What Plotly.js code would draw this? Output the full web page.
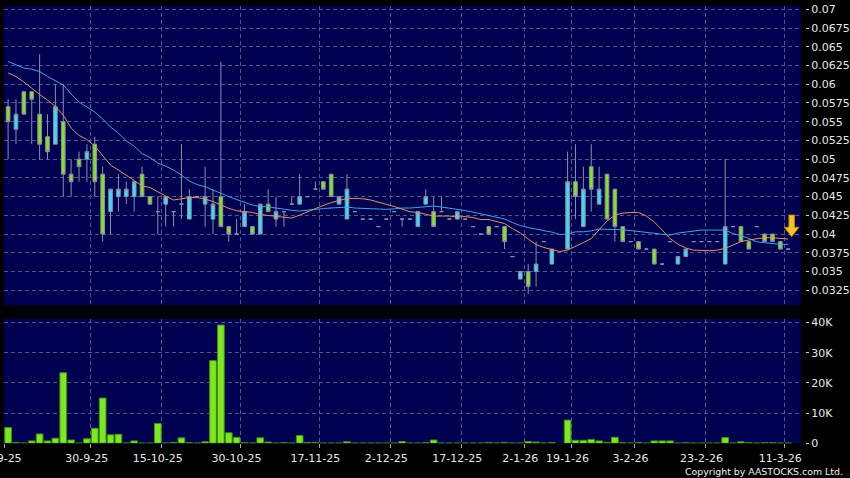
<!DOCTYPE html>
<html>
<head>
<meta charset="utf-8">
<script src="https://cdn.plot.ly/plotly-3.0.1.min.js"></script>
<style>
html,body{margin:0;padding:0;background:#000;}
#chart{width:850px;height:478px;}
</style>
</head>
<body>
<div id="chart"></div>
<script>
// ---- data ----
const dates = ['16-9-25','17-9-25','18-9-25','19-9-25','22-9-25','23-9-25','24-9-25','25-9-25','26-9-25','29-9-25','30-9-25',
'2-10-25','3-10-25','6-10-25','8-10-25','9-10-25','10-10-25','13-10-25','14-10-25','15-10-25',
'16-10-25','17-10-25','20-10-25','21-10-25','22-10-25','23-10-25','24-10-25','27-10-25','28-10-25','30-10-25',
'31-10-25','3-11-25','5-11-25','6-11-25','7-11-25','10-11-25','11-11-25','13-11-25','14-11-25','17-11-25',
'18-11-25','19-11-25','21-11-25','24-11-25','25-11-25','27-11-25','28-11-25','1-12-25','2-12-25',
'3-12-25','4-12-25','5-12-25','8-12-25','10-12-25','11-12-25','15-12-25','16-12-25','17-12-25',
'18-12-25','19-12-25','22-12-25','23-12-25','29-12-25','30-12-25','31-12-25','2-1-26',
'5-1-26','6-1-26','8-1-26','12-1-26','14-1-26','19-1-26',
'20-1-26','21-1-26','22-1-26','26-1-26','27-1-26','29-1-26','2-2-26','3-2-26',
'4-2-26','5-2-26','9-2-26','10-2-26','11-2-26','12-2-26','16-2-26','20-2-26','23-2-26',
'24-2-26','25-2-26','26-2-26','27-2-26','2-3-26','3-3-26','5-3-26','6-3-26','10-3-26','11-3-26',
'12-3-26'];

const openP = [0.057,0.054,0.059,0.059,0.056,0.053,0.052,0.055,0.048,0.050,
0.050,0.052,0.048,0.043,0.045,0.045,0.045,0.048,0.045,0.043,
0.044,0.043,0.044,0.042,0.045,0.044,0.042,0.045,0.041,0.040,
0.041,0.041,0.040,0.044,0.042,0.043,0.044,0.044,0.045,0.046,
0.047,0.048,0.044,0.042,0.043,0.042,0.042,0.041,0.042,0.043,
0.042,0.042,0.041,0.044,0.043,0.043,0.042,0.042,0.042,0.041,
0.040,0.041,0.041,0.041,0.037,0.034,0.035,0.035,0.039,0.036,
null,0.038,0.047,0.041,0.049,0.044,0.048,0.046,0.041,0.039,
0.039,0.038,0.038,0.036,0.039,0.036,0.037,0.039,0.039,0.039,
0.039,0.036,0.041,0.041,0.039,0.041,0.040,0.040,0.039,0.038];

const highP = [0.058,0.058,0.059,0.059,0.064,0.056,0.060,0.060,0.050,0.051,
0.052,0.053,0.049,0.046,0.048,0.047,0.047,0.049,0.045,0.045,
0.045,0.043,0.052,0.046,0.045,0.049,0.046,0.063,0.041,0.042,
0.044,0.041,0.044,0.046,0.045,0.043,0.045,0.048,0.045,0.047,
0.047,0.048,0.045,0.048,0.043,0.042,0.042,0.041,0.042,0.043,
0.042,0.042,0.043,0.046,0.045,0.045,0.042,0.043,0.042,0.041,
0.040,0.041,0.041,0.041,0.037,0.035,0.036,0.039,0.039,0.038,
null,0.051,0.052,0.049,0.052,0.049,0.048,0.046,0.041,0.039,
0.039,0.038,0.038,0.036,0.039,0.037,0.038,0.039,0.039,0.039,
0.039,0.050,0.041,0.041,0.039,0.041,0.040,0.040,0.039,0.038];

const lowP = [0.050,0.052,0.056,0.052,0.050,0.050,0.052,0.045,0.045,0.047,
0.047,0.045,0.039,0.040,0.043,0.044,0.043,0.045,0.044,0.040,
0.041,0.041,0.042,0.042,0.045,0.041,0.040,0.041,0.039,0.040,
0.041,0.040,0.040,0.043,0.041,0.041,0.044,0.044,0.045,0.046,
0.046,0.045,0.044,0.042,0.043,0.042,0.042,0.041,0.042,0.043,
0.041,0.042,0.041,0.044,0.041,0.043,0.042,0.042,0.042,0.041,
0.040,0.040,0.041,0.038,0.037,0.034,0.032,0.033,0.039,0.036,
null,0.038,0.042,0.041,0.043,0.044,0.042,0.039,0.039,0.039,
0.038,0.038,0.036,0.036,0.039,0.036,0.037,0.039,0.039,0.039,
0.039,0.036,0.041,0.039,0.038,0.041,0.039,0.039,0.038,0.038];

const closeP = [0.055,0.056,0.056,0.058,0.052,0.051,0.057,0.048,0.047,0.049,
0.051,0.047,0.040,0.046,0.046,0.046,0.047,0.045,0.044,0.043,
0.045,0.043,0.044,0.045,0.045,0.045,0.044,0.041,0.040,0.040,
0.043,0.040,0.044,0.043,0.043,0.043,0.044,0.045,0.045,0.046,
0.046,0.045,0.045,0.046,0.043,0.042,0.042,0.041,0.042,0.043,
0.042,0.042,0.043,0.045,0.041,0.043,0.042,0.043,0.042,0.041,
0.040,0.040,0.041,0.039,0.037,0.035,0.033,0.036,0.039,0.038,
null,0.047,0.045,0.046,0.046,0.046,0.042,0.041,0.039,0.039,
0.038,0.038,0.036,0.036,0.039,0.037,0.038,0.039,0.039,0.039,
0.039,0.041,0.041,0.039,0.038,0.041,0.039,0.039,0.038,0.038];

const volume = [5200,300,100,800,3100,800,1700,23400,1100,100,
1500,5000,15000,2800,3000,100,800,100,100,6600,
100,300,1800,200,100,500,27400,39200,3500,2000,
200,100,1800,400,100,200,100,2600,300,300,
100,100,100,500,100,100,100,100,100,100,
600,100,100,200,1100,100,100,100,100,100,
100,300,100,300,100,100,600,400,100,300,
null,7700,1000,1000,1300,800,300,2000,200,100,
300,100,800,800,800,100,200,100,100,100,
100,1900,100,500,200,100,200,200,100,100];

const maShort = [0.06150,0.06103,0.06030,0.05943,0.05863,0.05789,0.05703,0.05589,0.05416,0.05316,
0.05262,0.05175,0.05042,0.04922,0.04855,0.04782,0.04715,0.04645,0.04621,0.04561,
0.04508,0.04455,0.04468,0.04488,0.04488,0.04468,0.04435,0.04384,0.04344,0.04312,
0.04298,0.04290,0.04261,0.04248,0.04241,0.04221,0.04214,0.04254,0.04301,0.04341,
0.04381,0.04421,0.04448,0.04475,0.04477,0.04472,0.04455,0.04428,0.04398,0.04368,
0.04334,0.04298,0.04288,0.04261,0.04241,0.04241,0.04241,0.04228,0.04234,0.04221,
0.04194,0.04194,0.04168,0.04141,0.04074,0.04014,0.03934,0.03861,0.03821,0.03797,
0.03767,0.03787,0.03834,0.03887,0.03941,0.04054,0.04174,0.04254,0.04281,0.04288,
0.04290,0.04241,0.04161,0.04054,0.03941,0.03867,0.03814,0.03787,0.03781,0.03778,
0.03787,0.03810,0.03854,0.03901,0.03921,0.03934,0.03954,0.03951,0.03943,0.03934];

const maLong = [0.06303,0.06261,0.06216,0.06200,0.06170,0.06103,0.06050,0.05990,0.05869,0.05763,
0.05696,0.05629,0.05536,0.05429,0.05349,0.05242,0.05175,0.05075,0.05022,0.04948,
0.04908,0.04855,0.04788,0.04708,0.04661,0.04632,0.04588,0.04541,0.04501,0.04461,
0.04421,0.04388,0.04368,0.04365,0.04348,0.04328,0.04317,0.04308,0.04321,0.04334,
0.04341,0.04348,0.04352,0.04361,0.04348,0.04344,0.04341,0.04334,0.04330,0.04337,
0.04348,0.04348,0.04357,0.04365,0.04374,0.04361,0.04348,0.04334,0.04314,0.04294,
0.04272,0.04248,0.04221,0.04201,0.04154,0.04114,0.04088,0.04063,0.04046,0.04027,
0.03994,0.04001,0.04031,0.04031,0.04043,0.04067,0.04067,0.04065,0.04058,0.04047,
0.04034,0.04023,0.04014,0.04001,0.03987,0.04014,0.04030,0.04041,0.04054,0.04054,
0.04054,0.04054,0.04007,0.03981,0.03941,0.03898,0.03885,0.03871,0.03863,0.03863];

const xTickLabels = ['15-9-25','30-9-25','15-10-25','30-10-25','17-11-25','2-12-25','17-12-25','2-1-26','19-1-26','3-2-26','23-2-26','11-3-26'];
const priceTickVals = [0.0325,0.035,0.0375,0.04,0.0425,0.045,0.0475,0.05,0.0525,0.055,0.0575,0.06,0.0625,0.065,0.0675,0.07];
const priceTickText = ['0.0325','0.035','0.0375','0.04','0.0425','0.045','0.0475','0.05','0.0525','0.055','0.0575','0.06','0.0625','0.065','0.0675','0.07'];
const volTickVals = [0,10000,20000,30000,40000];
const volTickText = ['0','10K','20K','30K','40K'];

// ---- chart ----
const W = 850, H = 478;
const GRID = '#55558a';
const DASH = '4px,3px';
// grid lines sit on the boundary right of each labelled trading day
const tickPos = xTickLabels.map(l => { const i = dates.indexOf(l); return (i >= 0 ? i : -1) + 0.5; });

const xBase = {
  type: 'category', categoryorder: 'array', categoryarray: dates,
  range: [-0.52, 100.58], domain: [4 / W, 800.7 / W],
  tickmode: 'array', tickvals: tickPos, ticktext: xTickLabels,
  showgrid: true, gridcolor: GRID, griddash: DASH, gridwidth: 1,
  zeroline: false, showline: false, fixedrange: true
};
const yPriceDom = [(H - 305) / H, (H - 6) / H];
const yVolDom = [(H - 443.3) / H, (H - 319) / H];

const traces = [
  {
    type: 'candlestick', x: dates, open: openP, high: highP, low: lowP, close: closeP,
    xaxis: 'x', yaxis: 'y', whiskerwidth: 0, hoverinfo: 'skip',
    increasing: { line: { color: '#8e8ea6', width: 1 }, fillcolor: '#3cdcf2' },
    decreasing: { line: { color: '#8e8ea6', width: 1 }, fillcolor: '#84e21e' }
  },
  { type: 'scatter', mode: 'lines', x: dates, y: maLong, xaxis: 'x', yaxis: 'y',
    line: { color: '#3fa3e8', width: 1 }, hoverinfo: 'skip' },
  { type: 'scatter', mode: 'lines', x: dates, y: maShort, xaxis: 'x', yaxis: 'y',
    line: { color: '#e39160', width: 1 }, hoverinfo: 'skip' },
  { type: 'bar', x: dates, y: volume, xaxis: 'x2', yaxis: 'y2',
    marker: { color: '#7ee81e', line: { color: '#3f8f14', width: 1 } }, hoverinfo: 'skip' }
];

const tickFont = { family: 'DejaVu Sans', size: 11, color: '#e6e6e6' };

const layout = {
  width: W, height: H,
  paper_bgcolor: '#000000', plot_bgcolor: '#000050',
  margin: { l: 0, r: 0, t: 0, b: 0 },
  showlegend: false,
  boxgap: 0.34, bargap: 0.15,
  font: tickFont,
  xaxis: Object.assign({}, xBase, { anchor: 'y', showticklabels: false, ticks: '', rangeslider: { visible: false } }),
  xaxis2: Object.assign({}, xBase, { anchor: 'y2', showticklabels: true, ticks: 'outside', ticklen: 4,
    tickcolor: '#a8a8a8', ticklabelshift: -4, tickfont: tickFont }),
  yaxis: {
    domain: yPriceDom, anchor: 'free', position: 805 / W, side: 'right',
    range: [0.03054, 0.07044], tickmode: 'array', tickvals: priceTickVals, ticktext: priceTickText,
    ticks: 'outside', ticklen: 3, tickcolor: '#d0d0d0', tickfont: tickFont,
    showgrid: true, gridcolor: GRID, griddash: DASH, zeroline: false, showline: false, fixedrange: true
  },
  yaxis2: {
    domain: yVolDom, anchor: 'free', position: 805 / W, side: 'right',
    range: [0, 41200], tickmode: 'array', tickvals: volTickVals, ticktext: volTickText,
    ticks: 'outside', ticklen: 3, tickcolor: '#d0d0d0', tickfont: tickFont,
    showgrid: true, gridcolor: GRID, griddash: DASH, zeroline: false, showline: false, fixedrange: true
  },
  shapes: [{
    type: 'path', xref: 'x', yref: 'y', xsizemode: 'pixel', ysizemode: 'pixel',
    xanchor: dates.length - 1, yanchor: closeP[closeP.length - 1],
    path: 'M 0.7 34 L 6.1 34 L 6.1 21.8 L 10.7 21.8 L 3.4 12.4 L -3.9 21.8 L 0.7 21.8 Z',
    fillcolor: '#f8c51c', line: { color: '#c98a10', width: 1 }, layer: 'above'
  }],
  annotations: [{
    xref: 'paper', yref: 'paper', x: 845 / W, y: (H - 471.5) / H, xanchor: 'right', yanchor: 'middle',
    text: 'Copyright by AASTOCKS.com Ltd.', showarrow: false,
    font: { family: 'DejaVu Sans', size: 9.4, color: '#f0f0f0' }
  }]
};

Plotly.newPlot('chart', traces, layout, { staticPlot: true, displayModeBar: false });
</script>
</body>
</html>
